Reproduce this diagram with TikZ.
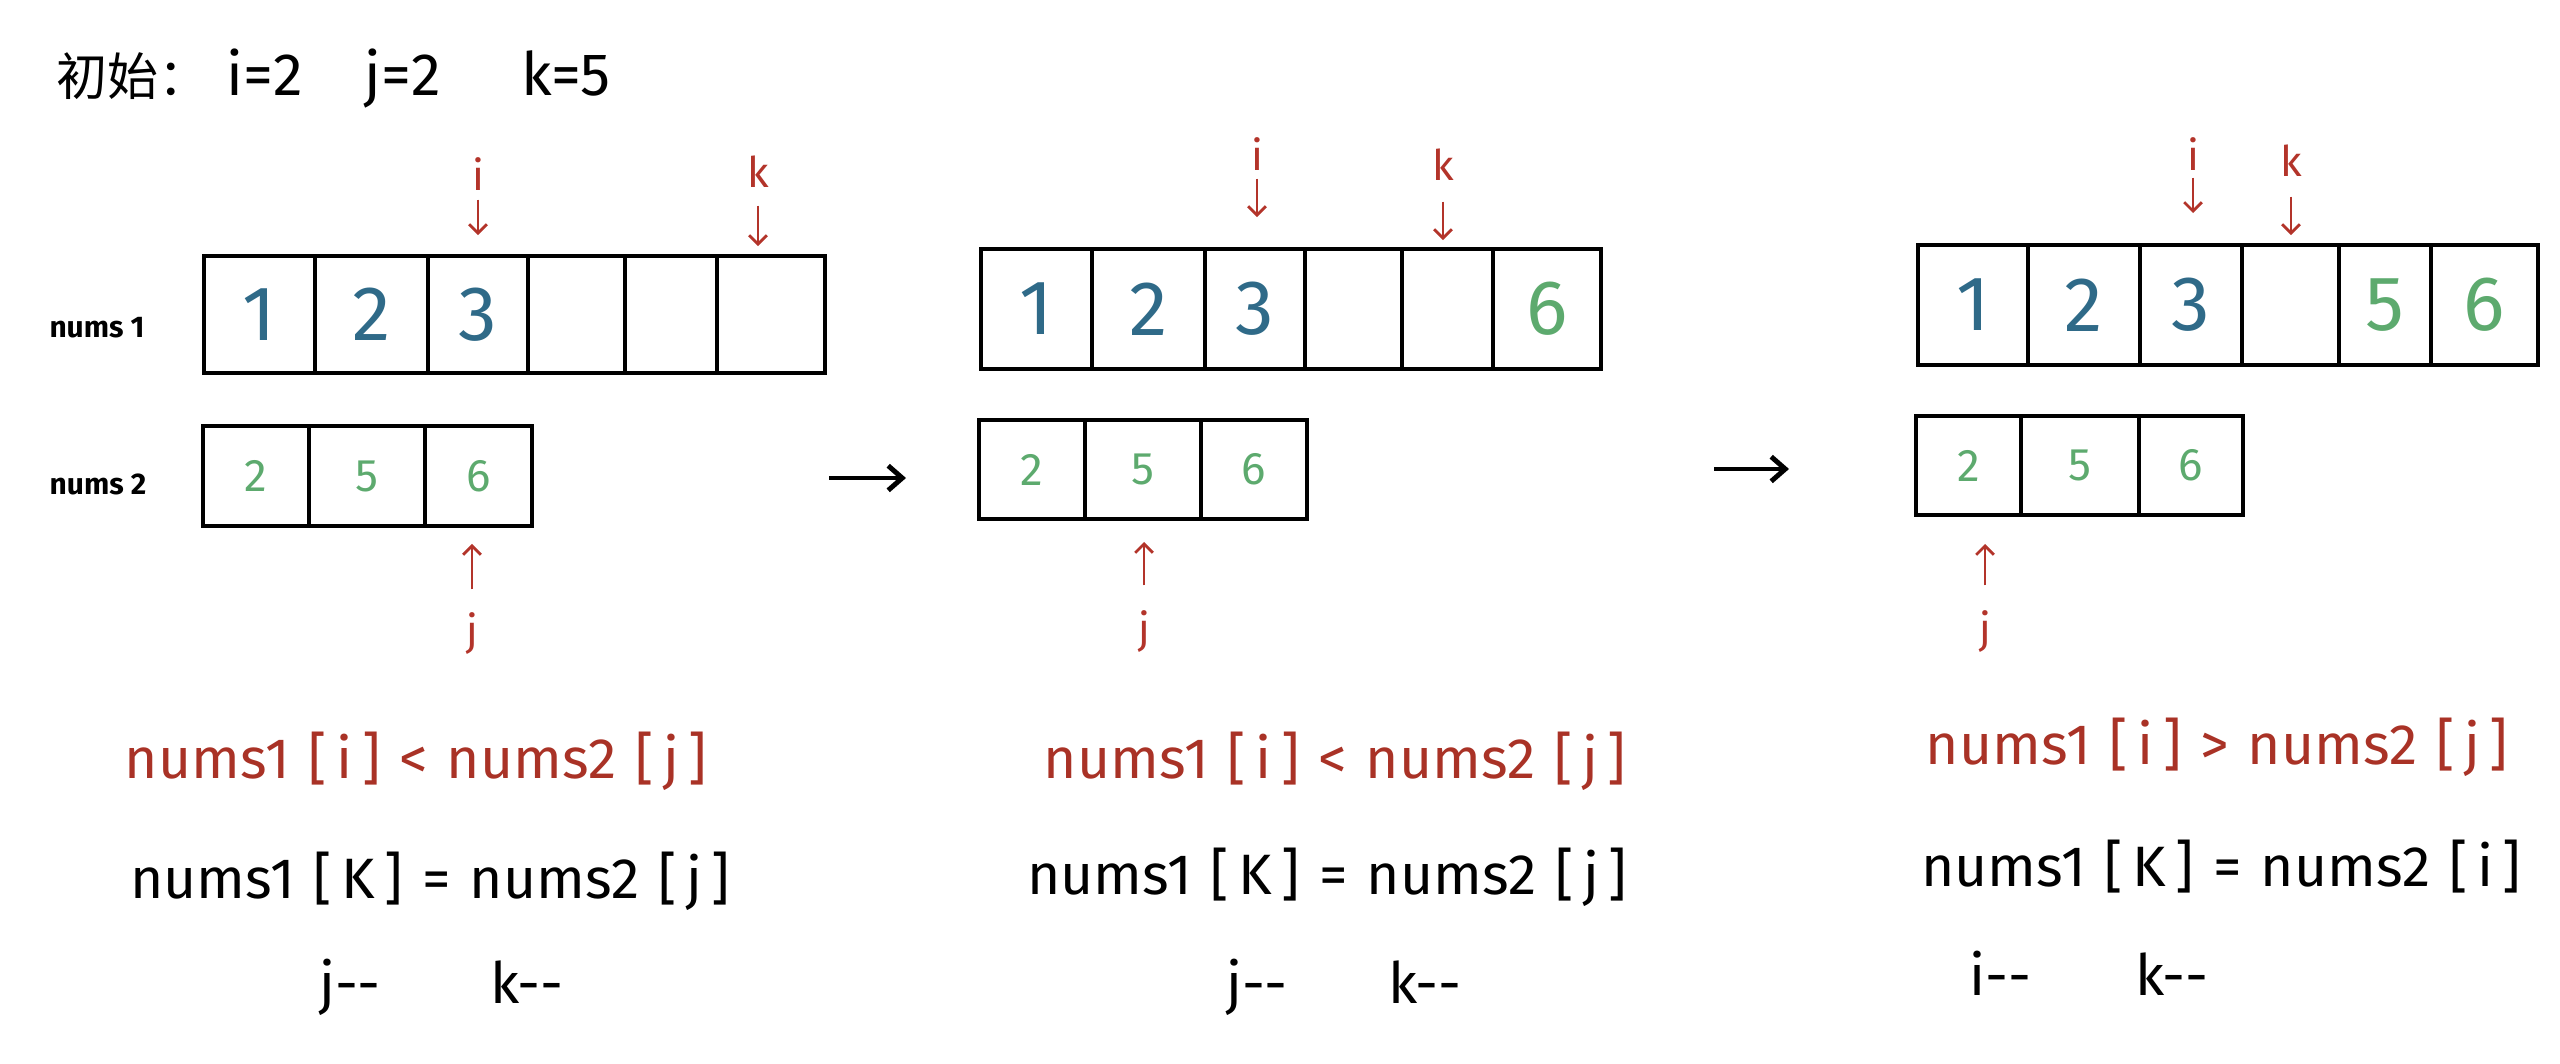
\documentclass[tikz,border=0pt]{standalone}
\usepackage{fontspec}
\setmainfont{Fira Sans}
\newfontfamily\cjk{Noto Sans CJK SC}
\usetikzlibrary{arrows.meta}
\definecolor{numblue}{HTML}{2F6A88}
\definecolor{numgreen}{HTML}{5DAA6E}
\definecolor{ptrred}{HTML}{B3342A}
\definecolor{textred}{HTML}{A93226}
\begin{document}
\begin{tikzpicture}[x=0.01cm,y=-0.01cm,
  cell/.style={draw=black, line width=1.1pt, inner sep=0pt, anchor=center},
  bigdig/.style={font=\fontsize{22}{24}\selectfont},
  smalldig/.style={font=\fontsize{13}{15}\selectfont},
  ptrlabel/.style={text=ptrred, font=\fontsize{12}{14}\selectfont, inner sep=0pt, minimum height=0.34cm},
  ptr/.style={draw=ptrred, line width=0.8pt, -{Straight Barb[length=2.5pt,width=5pt]}},
  flow/.style={draw=black, line width=1.4pt, -{Straight Barb[length=4pt,width=7pt]}},
  arrlabel/.style={font=\bfseries\fontsize{8.5}{10}\selectfont},
  condline/.style={text=textred, font=\fontsize{16.2}{18}\selectfont, anchor=base},
  stepline/.style={text=black, font=\fontsize{16.2}{18}\selectfont, anchor=base},
  titletext/.style={font=\fontsize{17}{19}\selectfont, anchor=base},
]
\useasboundingbox (0,0) rectangle (2560,1063);

% title
\node[font=\cjk\fontsize{14.5}{16}\selectfont, anchor=base west, inner sep=0pt] (t0) at (56,95) {初始：};
\node[titletext] (ti) at (265,95) {i=2};
\node[titletext] (tj) at (403,95) {j=2};
\node[titletext] (tk) at (566,95) {k=5};

% row labels
\node[arrlabel] (lab1) at (97,328) {nums 1};
\node[arrlabel] (lab2) at (98,484) {nums 2};

% ---------- panel 1 ----------
\foreach \a/\b/\d/\c [count=\n] in {204/315/1/numblue,315/428/2/numblue,428/528/3/numblue,528/625//numblue,625/717//numblue,717/825//numblue}
  \node[cell, bigdig, text=\c, minimum width={(\b-\a)*0.01cm}, minimum height=1.17cm] (p1a\n) at ({(\a+\b)/2},314.5) {\raisebox{-0.08cm}{\d}};
\foreach \a/\b/\d/\c [count=\n] in {203/309/2/numgreen,309/425/5/numgreen,425/532/6/numgreen}
  \node[cell, smalldig, text=\c, minimum width={(\b-\a)*0.01cm}, minimum height=1.00cm] (p1b\n) at ({(\a+\b)/2},476) {\d};

\node[ptrlabel] (i1) at (478,174) {i};
\node[ptrlabel] (k1) at (758,172) {k};
\node[ptrlabel] (j1) at (472,634) {j};
\draw[ptr, shorten <=0.08cm, shorten >=0.19cm] (i1.south) -- (i1.south |- p1a3.north);
\draw[ptr, shorten <=0.16cm, shorten >=0.08cm] (k1.south) -- (k1.south |- p1a6.north);
\draw[ptr, shorten <=0.23cm, shorten >=0.16cm] (j1.north) -- (j1.north |- p1b3.south);

\node[condline] (c1) at (416,778) {nums1\,\,[\,i\,]\,\,<\,\,nums2\,\,[\,j\,]};
\node[stepline] (s1) at (430,898) {nums1\,\,[\,K\,]\,\,=\,\,nums2\,\,[\,j\,]};
\node[stepline] (u1) at (350,1003) {j-{}-};
\node[stepline] (v1) at (527,1003) {k-{}-};

% transition 1
\coordinate (f1a) at (829,478);
\coordinate (f1b) at (906,478);
\draw[flow] (f1a) -- (f1b);

% ---------- panel 2 ----------
\foreach \a/\b/\d/\c [count=\n] in {981/1092/1/numblue,1092/1205/2/numblue,1205/1305/3/numblue,1305/1402//numblue,1402/1493//numblue,1493/1601/6/numgreen}
  \node[cell, bigdig, text=\c, minimum width={(\b-\a)*0.01cm}, minimum height=1.20cm] (p2a\n) at ({(\a+\b)/2},309) {\raisebox{-0.04cm}{\d}};
\foreach \a/\b/\d/\c [count=\n] in {979/1085/2/numgreen,1085/1201/5/numgreen,1201/1307/6/numgreen}
  \node[cell, smalldig, text=\c, minimum width={(\b-\a)*0.01cm}, minimum height=0.99cm] (p2b\n) at ({(\a+\b)/2},469.5) {\d};

\node[ptrlabel] (i2) at (1257,154) {i};
\node[ptrlabel] (k2) at (1443,165) {k};
\node[ptrlabel] (j2) at (1144,632) {j};
\draw[ptr, shorten <=0.07cm, shorten >=0.30cm] (i2.south) -- (i2.south |- p2a3.north);
\draw[ptr, shorten <=0.19cm, shorten >=0.07cm] (k2.south) -- (k2.south |- p2a5.north);
\draw[ptr, shorten <=0.25cm, shorten >=0.21cm] (j2.north) -- (j2.north |- p2b2.south);

\node[condline] (c2) at (1335,778) {nums1\,\,[\,i\,]\,\,<\,\,nums2\,\,[\,j\,]};
\node[stepline] (s2) at (1327,894) {nums1\,\,[\,K\,]\,\,=\,\,nums2\,\,[\,j\,]};
\node[stepline] (u2) at (1257,1003) {j-{}-};
\node[stepline] (v2) at (1425,1003) {k-{}-};

% transition 2
\coordinate (f2a) at (1714,469);
\coordinate (f2b) at (1789,469);
\draw[flow] (f2a) -- (f2b);

% ---------- panel 3 ----------
\foreach \a/\b/\d/\c [count=\n] in {1918/2028/1/numblue,2028/2140/2/numblue,2140/2242/3/numblue,2242/2339//numblue,2339/2431/5/numgreen,2431/2538/6/numgreen}
  \node[cell, bigdig, text=\c, minimum width={(\b-\a)*0.01cm}, minimum height=1.20cm] (p3a\n) at ({(\a+\b)/2},305) {\raisebox{-0.04cm}{\d}};
\foreach \a/\b/\d/\c [count=\n] in {1916/2021/2/numgreen,2021/2139/5/numgreen,2139/2243/6/numgreen}
  \node[cell, smalldig, text=\c, minimum width={(\b-\a)*0.01cm}, minimum height=0.99cm] (p3b\n) at ({(\a+\b)/2},465.5) {\d};

\node[ptrlabel] (i3) at (2193,154) {i};
\node[ptrlabel] (k3) at (2291,161) {k};
\node[ptrlabel] (j3) at (1985,632) {j};
\draw[ptr, shorten <=0.06cm, shorten >=0.30cm] (i3.south) -- (i3.south |- p3a3.north);
\draw[ptr, shorten <=0.18cm, shorten >=0.08cm] (k3.south) -- (k3.south |- p3a4.north);
\draw[ptr, shorten <=0.25cm, shorten >=0.27cm] (j3.north) -- (j3.north |- p3b1.south);

\node[condline] (c3) at (2217,764) {nums1\,\,[\,i\,]\,\,>\,\,nums2\,\,[\,j\,]};
\node[stepline] (s3) at (2221,886) {nums1\,\,[\,K\,]\,\,=\,\,nums2\,\,[\,i\,]};
\node[stepline] (u3) at (2000,995) {i-{}-};
\node[stepline] (v3) at (2172,995) {k-{}-};
\end{tikzpicture}
\end{document}
